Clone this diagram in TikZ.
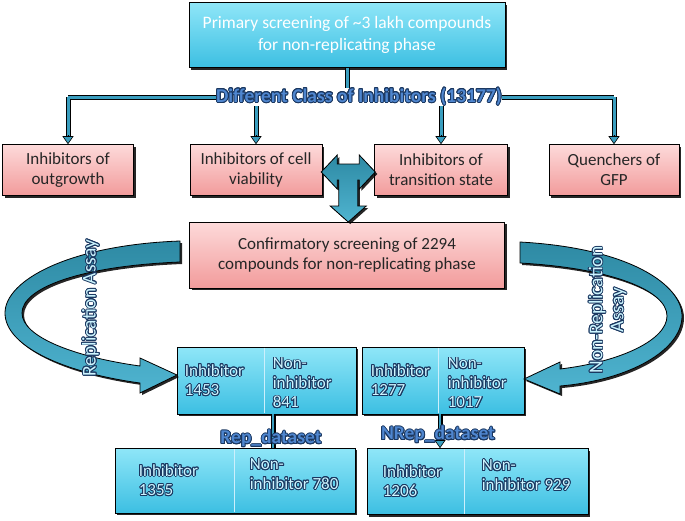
\documentclass[tikz,border=0pt]{standalone}
\usepackage{fontspec}
\setmainfont{Carlito}
\usepackage{contour}
\usetikzlibrary{arrows.meta,shadows,calc,positioning}

\definecolor{pipeblue}{HTML}{3A9EBF}
\definecolor{banddark}{HTML}{2E8AA4}
\definecolor{bandlight}{HTML}{4FB4D0}
\definecolor{cyantop}{HTML}{8FE6F8}
\definecolor{cyanbot}{HTML}{3CBFE2}
\definecolor{pinktop}{HTML}{FDDADA}
\definecolor{pinkbot}{HTML}{F29B9B}
\definecolor{hdfill}{HTML}{4F86CF}
\definecolor{paletext}{HTML}{CDF5FF}
\definecolor{outl}{HTML}{1A3760}

\contourlength{0.9pt}
\newcommand{\oltxt}[1]{{\color{paletext}\contour{outl}{#1}}}
\newcommand{\hdtxt}[1]{{\color{hdfill}\contour{outl}{#1}}}

\tikzset{
  boxshadow/.style={drop shadow={shadow xshift=2pt,shadow yshift=-2pt,fill=black,opacity=.85}},
  cyanbox/.style={draw=black,line width=.7pt,top color=cyantop,bottom color=cyanbot,boxshadow},
  pinkbox/.style={draw=black,line width=.6pt,top color=pinktop,bottom color=pinkbot,boxshadow,
    align=center,text=black!85,font=\fontsize{17}{20}\selectfont,minimum height=51},
  cellbox/.style={cyanbox,minimum height=67},
  cellsplit/.style={draw=white!80!cyan,line width=1pt},
  celltxt/.style={anchor=west,align=left,inner sep=0pt,font=\fontsize{17}{19.5}\selectfont},
  pipe/.style={draw=pipeblue,line width=3pt,preaction={draw=black,line width=5pt}},
  pipetip/.style={draw=black,line width=.6pt,-{Triangle[length=8pt,width=11pt,fill=pipeblue]}},
  band/.style={draw=black,line width=.8pt,top color=banddark,bottom color=bandlight,boxshadow},
  tagtxt/.style={font=\bfseries\fontsize{19.5}{22}\selectfont,inner sep=1pt},
  bandtxt/.style={rotate=90,align=center,font=\fontsize{19.5}{21}\selectfont},
}

\begin{document}
\begin{tikzpicture}[x=1pt,y=-1pt]
  \useasboundingbox (0,0) rectangle (685,520);

  % screening boxes
  \node[cyanbox,minimum width=316,minimum height=65,align=center,text=white,
    font=\fontsize{17.5}{22}\selectfont] (primary) at (347,35)
    {Primary screening of \textasciitilde3 lakh compounds\\for non-replicating phase};
  \node[pinkbox,minimum width=131] (outg) at (68,170) {Inhibitors of\\outgrowth};
  \node[pinkbox,minimum width=132] (viab) at (256,170) {Inhibitors of cell\\viability};
  \node[pinkbox,minimum width=133] (trans) at (441,170) {Inhibitors of\\transition state};
  \node[pinkbox,minimum width=130] (quen) at (614,170) {Quenchers of\\GFP};
  \node[pinkbox,minimum width=315,minimum height=66] (confirm) at (347,255)
    {Confirmatory screening of 2294\\compounds for non-replicating phase};

  % split result boxes
  \node[cellbox,minimum width=179] (repbox) at (266.5,380.5) {};
  \node[cellbox,minimum width=162] (nrepbox) at (443,380.5) {};
  \node[cellbox,minimum width=240,minimum height=65] (repds) at (235,480.5) {};
  \node[cellbox,minimum width=221,minimum height=66] (nrepds) at (477.5,481.5) {};
  \draw[cellsplit] ([xshift=88pt,yshift=-1pt]repbox.north west) -- ([xshift=88pt,yshift=1pt]repbox.south west);
  \draw[cellsplit] ([xshift=77pt,yshift=-1pt]nrepbox.north west) -- ([xshift=77pt,yshift=1pt]nrepbox.south west);
  \draw[cellsplit] ([xshift=120pt,yshift=-1pt]repds.north west) -- ([xshift=120pt,yshift=1pt]repds.south west);
  \draw[cellsplit] ([xshift=98pt,yshift=-1pt]nrepds.north west) -- ([xshift=98pt,yshift=1pt]nrepds.south west);

  \node[celltxt] (repinh) at ([xshift=8pt]repbox.west) {\oltxt{Inhibitor}\\\oltxt{1453}};
  \node[celltxt] (repnon) at ([xshift=96pt,yshift=-3pt]repbox.west) {\oltxt{Non-}\\\oltxt{inhibitor}\\\oltxt{841}};
  \node[celltxt] (nrepinh) at ([xshift=9pt]nrepbox.west) {\oltxt{Inhibitor}\\\oltxt{1277}};
  \node[celltxt] (nrepnon) at ([xshift=86pt,yshift=-3pt]nrepbox.west) {\oltxt{Non-}\\\oltxt{inhibitor}\\\oltxt{1017}};
  \node[celltxt] (repdsinh) at ([xshift=24pt]repds.west) {\oltxt{Inhibitor}\\\oltxt{1355}};
  \node[celltxt] (repdsnon) at ([xshift=135pt,yshift=6pt]repds.west) {\oltxt{Non-}\\\oltxt{inhibitor 780}};
  \node[celltxt] (nrepdsinh) at ([xshift=16pt]nrepds.west) {\oltxt{Inhibitor}\\\oltxt{1206}};
  \node[celltxt] (nrepdsnon) at ([xshift=115pt,yshift=6pt]nrepds.west) {\oltxt{Non-}\\\oltxt{inhibitor 929}};

  % class tree
  \coordinate (bar) at (347,97);
  \draw[pipe] (primary.south) -- (bar)
    (outg.north |- bar) -- (quen.north |- bar)
    (outg.north |- bar) -- ([yshift=7pt]outg.north)
    (viab.north |- bar) -- ([yshift=7pt]viab.north)
    (trans.north |- bar) -- ([yshift=7pt]trans.north)
    (quen.north |- bar) -- ([yshift=7pt]quen.north);
  \foreach \n in {outg,viab,trans,quen}
    \draw[pipetip] ([yshift=9pt]\n.north) -- (\n.north);
  \node[tagtxt,fill=white,inner sep=0pt] (classlbl) at ([xshift=12pt]bar) {\hdtxt{Different Class of Inhibitors (13177)}};

  % dataset links
  \draw[pipe,line width=2.5pt,preaction={draw=black,line width=4.5pt}]
    ([xshift=6.5pt]repbox.south) -- ([xshift=6.5pt]repbox.south |- repds.north)
    ([xshift=-3pt]nrepbox.south) -- ([xshift=-3pt,yshift=6pt]nrepbox.south |- nrepds.north);
  \draw[pipetip] ([xshift=-3pt,yshift=8pt]nrepbox.south |- nrepds.north) -- ([xshift=-3pt]nrepbox.south |- nrepds.north);
  \node[tagtxt] (replbl) at (271,439) {\hdtxt{Rep\_dataset}};
  \node[tagtxt] (nreplbl) at (438,435) {\hdtxt{NRep\_dataset}};

  % tee arrow between the classes and the confirmatory step
  \path ($(viab.east)!.5!(trans.west)$) coordinate (tee);
  \begin{scope}[shift={(tee)}]
    \draw[band] (-27,2) -- (-11,-15) -- (-11,-6) -- (11,-6) -- (11,-15) -- (27,2)
      -- (11,19) -- (11,10) -- (9.5,10) -- (9.5,36) -- (18,36) -- (0,52)
      -- (-18,36) -- (-9.5,36) -- (-9.5,10) -- (-11,10) -- (-11,19) -- cycle;
  \end{scope}

  % assay arrows
  \draw[band] (180,241) .. controls (70,245) and (5,280) .. (5,313)
    .. controls (5,345) and (60,372) .. (140,383) -- (140,393) -- (177,375)
    -- (140,358) -- (140,366)
    .. controls (75,357) and (22,337) .. (22,313)
    .. controls (22,288) and (80,266) .. (180,262) -- cycle;
  \draw[band] (520,242) .. controls (630,248) and (682,285) .. (682,316)
    .. controls (682,350) and (630,380) .. (560,386) -- (560,394) -- (524,379)
    -- (560,362) -- (560,369)
    .. controls (620,362) and (667,340) .. (667,316)
    .. controls (667,290) and (610,268) .. (520,263) -- cycle;
  \node[bandtxt] (replabel) at (91,308) {\oltxt{Replication Assay}};
  \node[bandtxt] (nreplabel) at (608,310) {\oltxt{Non-Replication}\\\oltxt{Assay}};
\end{tikzpicture}
\end{document}
